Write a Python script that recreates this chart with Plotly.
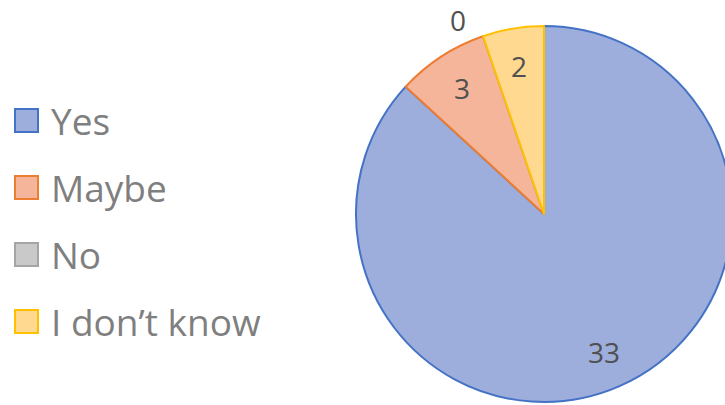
import math
import plotly.graph_objects as go

categories = ["Yes", "Maybe", "No", "I don\u2019t know"]
values = [33, 3, 0, 2]
fill_colors = ["#9DAEDD", "#F5B59B", "#C9C9C9", "#FFD98F"]
line_colors = ["#4472C4", "#ED7D31", "#A5A5A5", "#FFC000"]

W, H = 740, 405          # figure slightly wider than the window: pie is clipped on the right like the original
CX, CY, R = 544, 214, 188  # pie centre / radius in pixels

fig = go.Figure()
fig.add_trace(go.Pie(
    labels=categories,
    values=values,
    sort=False,
    direction="clockwise",
    rotation=0,
    marker=dict(colors=fill_colors, line=dict(color=line_colors, width=2)),
    textinfo="none",
    hoverinfo="label+value",
    domain=dict(x=[(CX - R) / W, (CX + R) / W], y=[1 - (CY + R) / H, 1 - (CY - R) / H]),
    showlegend=False,
))

# data labels (Excel-style: inside at 0.8R, zero slices outside)
total = sum(values)
acc = 0.0
annotations = []
for v in values:
    a0 = acc / total * 360
    a1 = (acc + v) / total * 360
    acc += v
    if v > 0:
        ang, r = (a0 + a1) / 2, 0.8 * R
    else:
        ang, r = a0 - 5, 1.13 * R
    px = CX + r * math.sin(math.radians(ang))
    py = CY - r * math.cos(math.radians(ang))
    annotations.append(dict(
        x=px / W, y=1 - py / H, xref="paper", yref="paper",
        text=str(v), showarrow=False, xanchor="center", yanchor="middle",
        font=dict(family="Open Sans", size=28, color="#505050"),
    ))

# legend (squares + labels)
shapes = []
row_y0, row_gap = 120.5, 67
for i, (lab, fc, lc) in enumerate(zip(categories, fill_colors, line_colors)):
    yc = row_y0 + i * row_gap
    shapes.append(dict(
        type="rect", xref="paper", yref="paper",
        x0=15 / W, x1=38 / W, y0=1 - (yc + 11.5) / H, y1=1 - (yc - 11.5) / H,
        fillcolor=fc, line=dict(color=lc, width=2),
    ))
    annotations.append(dict(
        x=49 / W, y=1 - yc / H, xref="paper", yref="paper",
        text=lab, showarrow=False, xanchor="left", yanchor="middle",
        font=dict(family="Open Sans", size=37, color="#7F7F7F"),
    ))

fig.update_layout(
    width=W, height=H,
    margin=dict(l=0, r=0, t=0, b=0),
    paper_bgcolor="white",
    plot_bgcolor="white",
    shapes=shapes,
    annotations=annotations,
)

fig.write_html(
    "out.html",
    config={"displayModeBar": False},
    post_script="document.documentElement.style.overflow='hidden';"
                "document.body.style.overflow='hidden';document.body.style.margin='0';",
)
